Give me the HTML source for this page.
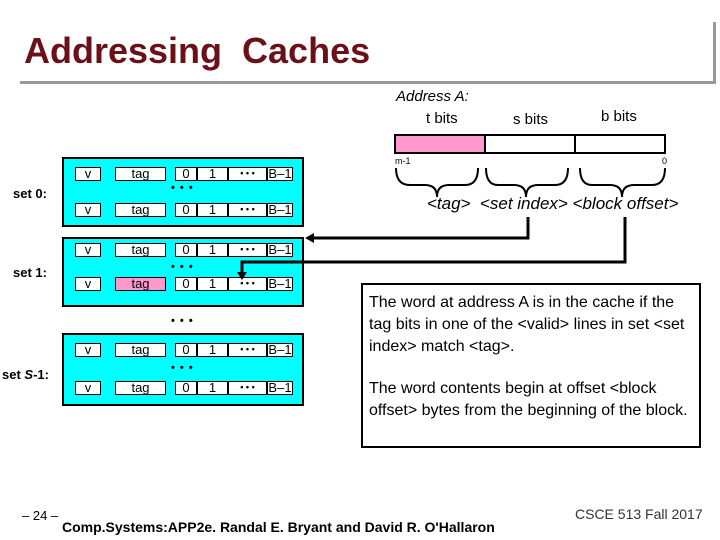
<!DOCTYPE html>
<html><head><style>
body{margin:0;width:720px;height:540px;background:#fff;position:relative;overflow:hidden;font-family:"Liberation Sans",Arial,sans-serif;}
.a{position:absolute;}
.set{position:absolute;left:62px;width:242px;background:#00ffff;border:2px solid #000;box-sizing:border-box;}
.c{position:absolute;background:#fff;border:1.5px solid #000;box-sizing:border-box;font-size:13px;text-align:center;line-height:11px;}
.lbl{position:absolute;font-size:13px;font-weight:bold;}
.dots{position:absolute;font-size:11px;font-weight:bold;letter-spacing:1px;}
</style></head><body>
<div class="a" style="left:24px;top:30px;font-size:36px;font-weight:bold;color:#6b0f18;">Addressing&nbsp; Caches</div>
<div class="a" style="left:20px;top:81px;width:696px;height:3px;background:#999;"></div>
<div class="a" style="left:713px;top:22px;width:3px;height:62px;background:#999;"></div>

<div id="sets"></div>
<svg class="a" style="left:0;top:0" width="720" height="540">
<g stroke="#000" stroke-width="3" fill="none">
<polyline points="528,217 528,238 312,238"/>
<polyline points="625,217 625,262 242,262 242,274"/>
</g>
<polygon points="305,238 314,233 314,243" fill="#000"/>
<polygon points="242,280 237,272 247,272" fill="#000"/>
<rect x="395" y="135" width="270" height="18" fill="#fff" stroke="#000" stroke-width="2"/>
<rect x="396" y="136" width="89" height="16" fill="#ff99cc"/>
<line x1="485" y1="135" x2="485" y2="153" stroke="#000" stroke-width="2"/>
<line x1="575" y1="135" x2="575" y2="153" stroke="#000" stroke-width="2"/>
<g stroke="#000" stroke-width="2" fill="none">
<path d="M396,168 Q396,185 410,185 L425,185 Q437,185 437,197 Q437,185 449,185 L465,185 Q478,185 478,168"/>
<path d="M486,168 Q486,185 498,185 L514,185 Q526,185 526,197 Q526,185 538,185 L555,185 Q568,185 568,168"/>
<path d="M580,168 Q580,185 592,185 L610,185 Q622,185 622,197 Q622,185 634,185 L652,185 Q665,185 665,168"/>
</g>
<text x="395" y="164" font-size="9" font-family="Liberation Sans,sans-serif">m-1</text>
<text x="662" y="164" font-size="9" font-family="Liberation Sans,sans-serif">0</text>
<rect x="362" y="284" width="338" height="163" fill="#fff" stroke="#000" stroke-width="2"/>
</svg>
<div class="a" style="left:396px;top:88px;font-size:15px;font-style:italic;">Address A:</div>
<div class="a" style="left:426px;top:110px;font-size:15px;">t bits</div>
<div class="a" style="left:513px;top:111px;font-size:15px;">s bits</div>
<div class="a" style="left:601px;top:108px;font-size:15px;">b bits</div>
<div class="a" style="left:427px;top:194px;font-size:17px;font-style:italic;white-space:nowrap;">&lt;tag&gt;&nbsp; &lt;set index&gt; &lt;block offset&gt;</div>
<div class="a" style="left:369px;top:292px;width:320px;font-size:16px;line-height:22px;">The word at address A is in the cache if the tag bits in one of the &lt;valid&gt; lines in set &lt;set index&gt; match &lt;tag&gt;.</div>
<div class="a" style="left:369px;top:378px;width:320px;font-size:16px;line-height:22px;">The word contents begin at offset &lt;block offset&gt; bytes from the beginning of the block.</div>
<div class="a" style="left:22px;top:508px;font-size:13px;">– 24 –</div>
<div class="a" style="left:62px;top:519px;font-size:14px;font-weight:bold;white-space:nowrap;">Comp.Systems:APP2e. Randal E. Bryant and David R. O'Hallaron</div>
<div class="a" style="left:575px;top:506px;font-size:14px;color:#333;white-space:nowrap;">CSCE 513 Fall 2017</div>
<script>
var sets=[[157,70,'set 0:',[167,203],190,186],[237,70,'set 1:',[243,277],269,265],[333,73,'set <i>S</i>-1:',[343,381],370,367]];
var h='';
sets.forEach(function(s,si){
 h+='<div class="set" style="top:'+s[0]+'px;height:'+s[1]+'px"></div>';
 h+='<div class="lbl" style="left:'+(si==2?2:13)+'px;top:'+s[5]+'px">'+s[2]+'</div>';
 s[3].forEach(function(y,ri){
  var pink=(si==1&&ri==1);
  var cells=[[75,26,'v'],[115,51,'tag'],[175,22,'0'],[197,31,'1'],[228,39,'• • •'],[267,26,'B–1']];
  cells.forEach(function(c){
   h+='<div class="c" style="left:'+c[0]+'px;top:'+y+'px;width:'+c[1]+'px;height:14px;'+(pink&&c[2]=='tag'?'background:#ff99cc;':'')+(c[2]=='• • •'?'font-size:9px;font-weight:bold;':'')+'">'+c[2]+'</div>';
  });
 });
 h+='<div class="dots" style="left:171px;top:'+(s[4]-8)+'px">• • •</div>';
});
h+='<div class="dots" style="left:171px;top:315px">• • •</div>';
document.getElementById('sets').innerHTML=h;
</script>
</body></html>
